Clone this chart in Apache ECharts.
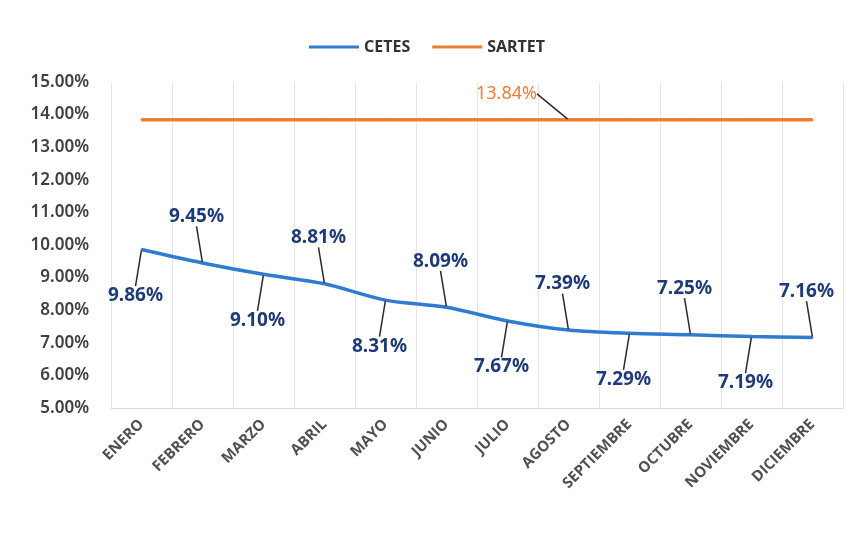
<!DOCTYPE html>
<html>
<head>
<meta charset="UTF-8">
<title>CETES vs SARTET</title>
<script type="text/javascript" src="https://cdn.jsdelivr.net/npm/echarts@6/dist/echarts.min.js"></script>
</head>
<body style="margin:0;background:#fff;">
	<div id="box" style="width:854px;height:541px;"></div>
	<script type="text/javascript">
		// datos
		var meses = ['ENERO','FEBRERO','MARZO','ABRIL','MAYO','JUNIO','JULIO','AGOSTO','SEPTIEMBRE','OCTUBRE','NOVIEMBRE','DICIEMBRE'];
		var cetes = [9.86, 9.45, 9.10, 8.81, 8.31, 8.09, 7.67, 7.39, 7.29, 7.25, 7.19, 7.16];
		var sartet = [13.84, 13.84, 13.84, 13.84, 13.84, 13.84, 13.84, 13.84, 13.84, 13.84, 13.84, 13.84];
		var sartetEtiqueta = 7; // mes donde aparece la etiqueta de SARTET

		var fuente = "'Noto Sans', 'DejaVu Sans', sans-serif";
		var mychart = echarts.init(document.getElementById('box'));

		var sartetData = sartet.map(function (v, i) {
			if (i === sartetEtiqueta) {
				return { value: v, label: { show: true } };
			}
			return v;
		});

		var option = {
			backgroundColor: '#fff',
			textStyle: { fontFamily: fuente },
			legend: {
				data: ['CETES', 'SARTET'],
				top: 34,
				left: 'center',
				itemWidth: 50,
				itemHeight: 3,
				itemGap: 22,
				icon: 'rect',
				textStyle: { fontSize: 16, fontWeight: 'bold', color: '#333', fontFamily: fuente }
			},
			grid: { left: 111, right: 11, top: 82, bottom: 133 },
			xAxis: {
				type: 'category',
				data: meses,
				boundaryGap: true,
				axisTick: { show: false },
				axisLine: { lineStyle: { color: '#d9d9d9' } },
				splitLine: { show: true, lineStyle: { color: '#e6e6e6' } },
				axisLabel: {
					interval: 0,
					rotate: 45,
					margin: 14,
					color: '#505050',
					fontSize: 15,
					fontWeight: 'bold',
					fontFamily: "'Open Sans', sans-serif"
				}
			},
			yAxis: {
				type: 'value',
				min: 5,
				max: 15,
				interval: 1,
				splitLine: { show: false },
				axisLine: { show: false },
				axisTick: { show: false },
				axisLabel: {
					margin: 22,
					color: '#404040',
					fontSize: 17,
					fontWeight: 600,
					formatter: function (v) { return v.toFixed(2) + '%'; }
				}
			},
			series: [{
				name: 'CETES',
				type: 'line',
				data: cetes,
				smooth: 0.3,
				symbol: 'circle',
				symbolSize: 2,
				color: '#2e7bd0',
				lineStyle: { width: 3.5, color: '#2e7bd0' },
				label: {
					show: true,
					position: 'inside',
					color: '#1f3a78',
					fontSize: 19,
					fontWeight: 'bold',
					formatter: function (p) { return p.value.toFixed(2) + '%'; }
				},
				labelLayout: function (p) {
					var arriba = p.dataIndex % 2 === 1;
					return { dx: -6, dy: arriba ? -46 : 46 };
				},
				labelLine: { show: true, lineStyle: { color: '#2a2a2a', width: 1.5 } }
			}, {
				name: 'SARTET',
				type: 'line',
				data: sartetData,
				symbol: 'circle',
				symbolSize: 2,
				color: '#ed7d31',
				lineStyle: { width: 3.5, color: '#ed7d31' },
				label: {
					show: false,
					position: 'inside',
					color: '#ed7d31',
					fontSize: 18,
					formatter: function (p) { return p.value.toFixed(2) + '%'; }
				},
				labelLayout: { dx: -62, dy: -26 },
				labelLine: { show: true, lineStyle: { color: '#2a2a2a', width: 1.5 } }
			}]
		};
		mychart.setOption(option);
	</script>
</body>
</html>
